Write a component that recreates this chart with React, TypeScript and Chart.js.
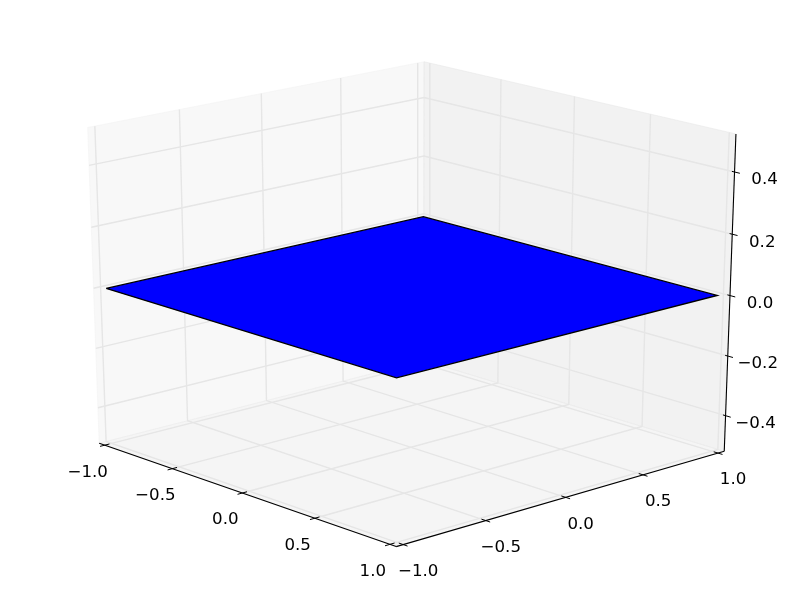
import React, { useEffect, useRef } from "react";
import { Chart, registerables } from "chart.js";

Chart.register(...registerables);

const xTicks = [-1, -0.5, 0, 0.5, 1];
const yTicks = [-1, -0.5, 0, 0.5, 1];
const zTicks = [-0.4, -0.2, 0, 0.2, 0.4];
const xLim = [-1, 1];
const yLim = [-1, 1];
const zLim = [-0.5, 0.5];
const surfaceX = [-1, 1];
const surfaceY = [-1, 1];
const surfaceZ = [
  [0, 0],
  [0, 0],
];

const W = 800;
const H = 600;
const ELEV = (20.5 * Math.PI) / 180;
const AZIM = (-42.5 * Math.PI) / 180;
const DIST = 10;
const VIEW_MIN = -0.95 / DIST;
const VIEW_MAX = 0.9 / DIST;
const BOX_PAD = 1 / 48;

const dot = (a: number[], b: number[]) => a[0] * b[0] + a[1] * b[1] + a[2] * b[2];
const cross = (a: number[], b: number[]) => [
  a[1] * b[2] - a[2] * b[1],
  a[2] * b[0] - a[0] * b[2],
  a[0] * b[1] - a[1] * b[0],
];
const unit = (a: number[]) => {
  const n = Math.sqrt(dot(a, a));
  return a.map((v) => v / n);
};
const nV = [Math.cos(ELEV) * Math.cos(AZIM), Math.cos(ELEV) * Math.sin(AZIM), Math.sin(ELEV)];
const uV = unit(cross([0, 0, 1], nV));
const vV = cross(nV, uV);
const eye = [0.5 + DIST * nV[0], 0.5 + DIST * nV[1], 0.5 + DIST * nV[2]];

function project(x: number, y: number, z: number) {
  const p = [
    (x - xLim[0]) / (xLim[1] - xLim[0]) - eye[0],
    (y - yLim[0]) / (yLim[1] - yLim[0]) - eye[1],
    (z - zLim[0]) / (zLim[1] - zLim[0]) - eye[2],
  ];
  const d = -dot(nV, p);
  const sx = dot(uV, p) / d;
  const sy = dot(vV, p) / d;
  return {
    x: ((sx - VIEW_MIN) / (VIEW_MAX - VIEW_MIN)) * W,
    y: H - ((sy - VIEW_MIN) / (VIEW_MAX - VIEW_MIN)) * H,
  };
}

const padX = (xLim[1] - xLim[0]) * BOX_PAD;
const padY = (yLim[1] - yLim[0]) * BOX_PAD;
const padZ = (zLim[1] - zLim[0]) * BOX_PAD;
const bx0 = xLim[0] - padX;
const bx1 = xLim[1] + padX;
const by0 = yLim[0] - padY;
const by1 = yLim[1] + padY;
const bz0 = zLim[0] - padZ;
const bz1 = zLim[1] + padZ;

const path = (pts: number[][]) => pts.map((p) => project(p[0], p[1], p[2]));

function lineDs(pts: number[][], color: string, width: number, order: number) {
  return {
    type: "line" as const,
    data: path(pts),
    borderColor: color,
    borderWidth: width,
    pointRadius: 0,
    tension: 0,
    fill: false,
    parsing: false as const,
    order,
  };
}

function polyDs(pts: number[][], color: string, edge: string, width: number, order: number) {
  return {
    type: "line" as const,
    data: path([...pts, pts[0]]),
    backgroundColor: color,
    borderColor: edge,
    borderWidth: width,
    pointRadius: 0,
    tension: 0,
    fill: "shape",
    parsing: false as const,
    order,
  };
}

const GRID = "#e6e6e6";
const datasets: any[] = [
  polyDs([[bx0, by0, bz0], [bx0, by1, bz0], [bx0, by1, bz1], [bx0, by0, bz1]], "rgba(242,242,242,0.5)", "rgba(242,242,242,0.5)", 1, 100),
  polyDs([[bx0, by1, bz0], [bx1, by1, bz0], [bx1, by1, bz1], [bx0, by1, bz1]], "rgba(230,230,230,0.5)", "rgba(230,230,230,0.5)", 1, 99),
  polyDs([[bx0, by0, bz0], [bx1, by0, bz0], [bx1, by1, bz0], [bx0, by1, bz0]], "rgba(236,236,236,0.5)", "rgba(236,236,236,0.5)", 1, 98),
];
xTicks.forEach((t) => datasets.push(lineDs([[t, by0, bz0], [t, by1, bz0], [t, by1, bz1]], GRID, 1.39, 50)));
yTicks.forEach((t) => datasets.push(lineDs([[bx1, t, bz0], [bx0, t, bz0], [bx0, t, bz1]], GRID, 1.39, 50)));
zTicks.forEach((t) => datasets.push(lineDs([[bx0, by0, t], [bx0, by1, t], [bx1, by1, t]], GRID, 1.39, 50)));

datasets.push(lineDs([[bx0, by0, bz0], [bx1, by0, bz0]], "#000", 1.1, 40));
datasets.push(lineDs([[bx1, by0, bz0], [bx1, by1, bz0]], "#000", 1.1, 40));
datasets.push(lineDs([[bx1, by1, bz0], [bx1, by1, bz1]], "#000", 1.1, 40));

const TICK_XY = 0.17 / 12;
const TICK_Z_IN = 0.1 / 12;
const TICK_Z_OUT = 0.2 / 12;
const spanX = xLim[1] - xLim[0];
const spanY = yLim[1] - yLim[0];
xTicks.forEach((t) =>
  datasets.push(lineDs([[t, by0 - spanY * TICK_XY, bz0], [t, by0 + spanY * TICK_XY, bz0]], "#000", 1, 30))
);
yTicks.forEach((t) =>
  datasets.push(lineDs([[bx1 + spanX * TICK_XY, t, bz0], [bx1 - spanX * TICK_XY, t, bz0]], "#000", 1, 30))
);
zTicks.forEach((t) =>
  datasets.push(lineDs([[bx1 + spanX * TICK_Z_OUT, by1, t], [bx1 - spanX * TICK_Z_IN, by1, t]], "#000", 1, 30))
);

datasets.push(
  polyDs(
    [
      [surfaceX[0], surfaceY[0], surfaceZ[0][0]],
      [surfaceX[1], surfaceY[0], surfaceZ[0][1]],
      [surfaceX[1], surfaceY[1], surfaceZ[1][1]],
      [surfaceX[0], surfaceY[1], surfaceZ[1][0]],
    ],
    "#0000ff",
    "#000000",
    1.39,
    10
  )
);

const fmt = (v: number) => {
  const s = Math.abs(v).toFixed(1);
  return v < 0 ? "\u2212" + s : s;
};

const labelsPlugin = {
  id: "tickLabels3d",
  afterDatasetsDraw(chart: any) {
    const ctx = chart.ctx as CanvasRenderingContext2D;
    ctx.save();
    ctx.fillStyle = "#000";
    ctx.font = '16.67px "DejaVu Sans"';
    ctx.textAlign = "center";
    ctx.textBaseline = "middle";
    xTicks.forEach((t) => {
      const p = project(t, by0, bz0);
      ctx.fillText(fmt(t), p.x - 17, p.y + 27);
    });
    yTicks.forEach((t) => {
      const p = project(bx1, t, bz0);
      ctx.fillText(fmt(t), p.x + 15, p.y + 27);
    });
    zTicks.forEach((t) => {
      const p = project(bx1, by1, t);
      ctx.fillText(fmt(t), p.x + 30, p.y + 8);
    });
    ctx.restore();
  },
};

export default function App() {
  const ref = useRef<HTMLCanvasElement>(null);
  useEffect(() => {
    const chart = new Chart(ref.current!, {
      type: "line",
      data: { datasets },
      plugins: [labelsPlugin],
      options: {
        animation: false,
        responsive: false,
        layout: { padding: 0 },
        plugins: { legend: { display: false }, title: { display: false }, tooltip: { enabled: false } },
        scales: {
          x: { type: "linear", min: 0, max: W, display: false },
          y: { type: "linear", min: 0, max: H, reverse: true, display: false },
        },
      },
    } as any);
    return () => chart.destroy();
  }, []);
  return (
    <canvas
      ref={ref}
      width={W}
      height={H}
      style={{ position: "fixed", left: 0, top: 0, width: W, height: H, background: "#fff" }}
    />
  );
}
